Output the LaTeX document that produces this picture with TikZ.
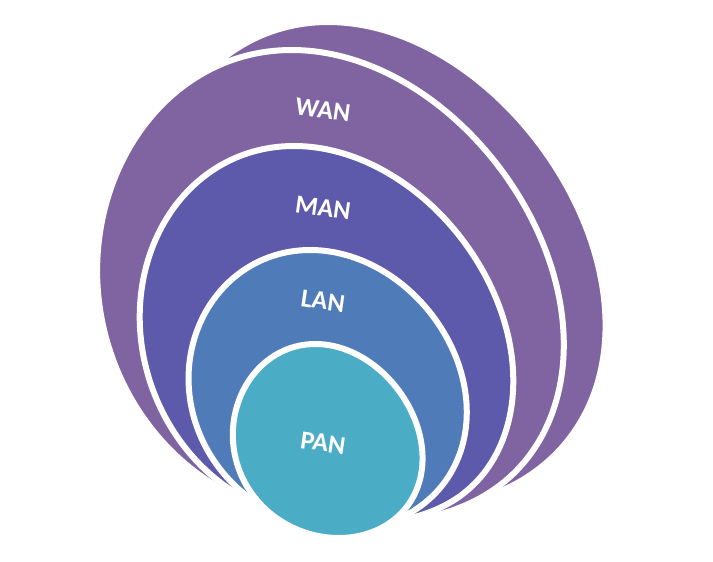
\documentclass[tikz,border=0pt]{standalone}
\usepackage{fontspec}
\setmainfont{Carlito}
\definecolor{wancol}{RGB}{128,100,162}
\definecolor{mancol}{RGB}{93,89,171}
\definecolor{lancol}{RGB}{79,123,185}
\definecolor{pancol}{RGB}{75,172,198}
\tikzset{
  ring/.style={draw=white, line width=6pt, line join=round},
  lbl/.style={text=white, font=\bfseries\fontsize{26}{30}\selectfont, rotate=-8, inner sep=0pt},
  declare function={pu(\a)=max(\a,0)*\a*\a*\a*\a*\a;}
}
% #1 cx, #2 cy, #3 rx, #4 ry, #5 shear, #6 egg, #7 bottom pull-up, #8 colour
\newcommand{\blob}[8]{%
  \fill[#8, ring]
    plot[domain=0:360, samples=240, variable=\t, smooth]
    ({#1 + #3*(1+#6*sin(\t))*cos(\t) + #5*#4*sin(\t)},
     {#2 + #4*sin(\t) - #7*pu(sin(\t))}) -- cycle;}
\begin{document}
\begin{tikzpicture}[x=1pt, y=-1pt]
\useasboundingbox (0,0) rectangle (713,562);
\fill[white] (0,0) rectangle (713,562);
\blob{372}{265}{226}{243}{0.18}{0.07}{0}{wancol}
\blob{328}{292}{230}{242}{0.15}{0.07}{10}{wancol}
\blob{325}{340}{184}{194}{0.16}{0.05}{10}{mancol}
\blob{327}{390}{138}{140}{0.12}{0.04}{0}{lancol}
\blob{327}{441}{94}{97}{0.12}{0.06}{0}{pancol}
\node[lbl] (wan) at (323,110) {WAN};
\node[lbl] (man) at (323,208) {MAN};
\node[lbl] (lan) at (323,301) {LAN};
\node[lbl] (pan) at (323,443) {PAN};
\end{tikzpicture}
\end{document}
